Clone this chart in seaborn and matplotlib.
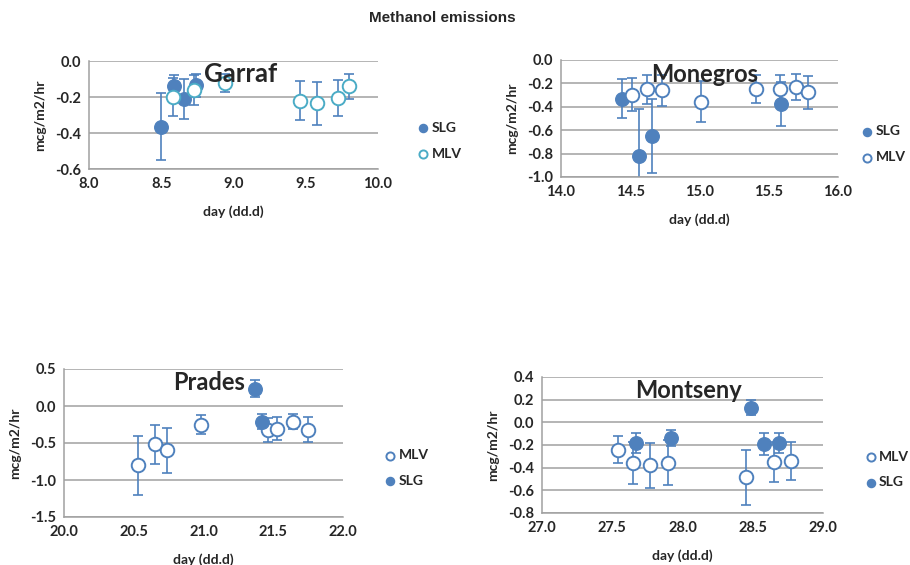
import numpy as np
import pandas as pd
import matplotlib
matplotlib.use("Agg")
import matplotlib.pyplot as plt
import seaborn as sns

# ==============================================================================
# DATA
# ==============================================================================
garraf_slg_x = [8.50, 8.59, 8.66, 8.74]
garraf_slg_y = [-0.365, -0.14, -0.21, -0.135]
garraf_slg_e = [0.185, 0.065, 0.11, 0.065]
garraf_mlv_x = [8.58, 8.73, 8.94, 9.46, 9.58, 9.72, 9.80]
garraf_mlv_y = [-0.20, -0.16, -0.12, -0.22, -0.235, -0.205, -0.14]
garraf_mlv_e = [0.105, 0.085, 0.05, 0.11, 0.12, 0.10, 0.07]

monegros_slg_x = [14.44, 14.56, 14.66, 15.59]
monegros_slg_y = [-0.33, -0.82, -0.65, -0.375]
monegros_slg_e = [0.17, 0.40, 0.32, 0.19]
monegros_mlv_x = [14.51, 14.62, 14.73, 15.01, 15.41, 15.58, 15.70, 15.78]
monegros_mlv_y = [-0.295, -0.25, -0.26, -0.355, -0.25, -0.25, -0.23, -0.275]
monegros_mlv_e = [0.145, 0.125, 0.135, 0.175, 0.12, 0.125, 0.11, 0.14]

prades_mlv_x = [20.53, 20.65, 20.74, 20.98, 21.46, 21.53, 21.64, 21.75]
prades_mlv_y = [-0.80, -0.52, -0.60, -0.25, -0.32, -0.305, -0.21, -0.32]
prades_mlv_e = [0.40, 0.26, 0.30, 0.125, 0.16, 0.15, 0.10, 0.165]
prades_slg_x = [21.37, 21.42]
prades_slg_y = [0.235, -0.21]
prades_slg_e = [0.11, 0.10]

montseny_mlv_x = [27.54, 27.65, 27.77, 27.90, 28.45, 28.65, 28.77]
montseny_mlv_y = [-0.24, -0.355, -0.38, -0.355, -0.485, -0.35, -0.34]
montseny_mlv_e = [0.12, 0.185, 0.195, 0.195, 0.245, 0.175, 0.17]
montseny_slg_x = [27.67, 27.92, 28.49, 28.58, 28.69]
montseny_slg_y = [-0.18, -0.14, 0.13, -0.19, -0.18]
montseny_slg_e = [0.09, 0.07, 0.065, 0.095, 0.09]

# ==============================================================================
# STYLE
# ==============================================================================
sns.set_style("white")
plt.rcParams['font.family'] = ['Lato', 'DejaVu Sans']

BLUE = '#4f81bd'
CYAN = '#4bacc6'
GRID = '#a0a0a0'

W, H = 910, 565
fig = plt.figure(figsize=(W / 100, H / 100), dpi=100)


def px_axes(x0, y0, x1, y1):
    return fig.add_axes([x0 / W, 1 - y1 / H, (x1 - x0) / W, (y1 - y0) / H])


def draw_series(ax, x, y, e, filled, color, label):
    ax.errorbar(x, y, yerr=e, fmt='none', ecolor=BLUE, elinewidth=1.2,
                capsize=3.5, capthick=1.2, zorder=2)
    df = pd.DataFrame({'day': x, 'val': y})
    if filled:
        sns.scatterplot(data=df, x='day', y='val', ax=ax, s=95, color=color,
                        edgecolor=color, linewidth=1, zorder=3, label=label)
    else:
        sns.scatterplot(data=df, x='day', y='val', ax=ax, s=95, facecolor='white',
                        edgecolor=color, linewidth=1.4, zorder=3, label=label)


def style_axes(ax, xlim, ylim, ystep, name, name_xy, name_size, leg_xy, order):
    ax.set_xlim(*xlim)
    ax.set_ylim(*ylim)
    xt = np.arange(xlim[0], xlim[1] + 0.01, 0.5)
    ax.set_xticks(xt)
    ax.set_xticklabels([f"{v:.1f}" for v in xt])
    yt = np.round(np.arange(ylim[0], ylim[1] + 1e-6, ystep), 2)
    ax.set_yticks(yt)
    ax.set_yticklabels([f"{v + 0.0:.1f}" for v in yt])
    ax.yaxis.grid(True, color=GRID, linewidth=1.1)
    ax.xaxis.grid(False)
    ax.set_axisbelow(True)
    for s in ['top', 'right']:
        ax.spines[s].set_visible(False)
    for s in ['left', 'bottom']:
        ax.spines[s].set_color(GRID)
        ax.spines[s].set_linewidth(1.1)
    ax.tick_params(length=0, labelsize=10.5, pad=6)
    for t in ax.get_xticklabels() + ax.get_yticklabels():
        t.set_fontweight('bold')
    ax.set_xlabel("day (dd.d)", fontsize=10, fontweight='bold', labelpad=10)
    ax.set_ylabel("mcg/m2/hr", fontsize=10, fontweight='bold', labelpad=6)
    ax.text(name_xy[0], name_xy[1], name, transform=ax.transAxes, ha='center',
            va='center', fontsize=name_size, fontweight='bold', zorder=5)
    handles, labels = ax.get_legend_handles_labels()
    hmap = dict(zip(labels, handles))
    ax.legend([hmap[k] for k in order], order, loc='center left',
              bbox_to_anchor=leg_xy, frameon=False,
              labelspacing=1.0, handletextpad=0.1, markerscale=0.6,
              handlelength=1.0, prop={'weight': 'bold', 'size': 10})


# ------------------------------------------------------------------------------
# Garraf
# ------------------------------------------------------------------------------
ax = px_axes(89, 61, 378, 169)
draw_series(ax, garraf_slg_x, garraf_slg_y, garraf_slg_e, True, BLUE, 'SLG')
draw_series(ax, garraf_mlv_x, garraf_mlv_y, garraf_mlv_e, False, CYAN, 'MLV')
style_axes(ax, (8.0, 10.0), (-0.6, 0.0), 0.2, 'Garraf', (0.525, 0.88), 18.5,
           (1.09, 0.26), ['SLG', 'MLV'])

# ------------------------------------------------------------------------------
# Monegros
# ------------------------------------------------------------------------------
ax = px_axes(561, 60, 838, 177)
draw_series(ax, monegros_slg_x, monegros_slg_y, monegros_slg_e, True, BLUE, 'SLG')
draw_series(ax, monegros_mlv_x, monegros_mlv_y, monegros_mlv_e, False, BLUE, 'MLV')
style_axes(ax, (14.0, 16.0), (-1.0, 0.0), 0.2, 'Monegros', (0.52, 0.88), 17,
           (1.035, 0.28), ['SLG', 'MLV'])

# ------------------------------------------------------------------------------
# Prades
# ------------------------------------------------------------------------------
ax = px_axes(64, 369, 343, 517)
draw_series(ax, prades_mlv_x, prades_mlv_y, prades_mlv_e, False, BLUE, 'MLV')
draw_series(ax, prades_slg_x, prades_slg_y, prades_slg_e, True, BLUE, 'SLG')
style_axes(ax, (20.0, 22.0), (-1.5, 0.5), 0.5, 'Prades', (0.52, 0.91), 17,
           (1.10, 0.33), ['MLV', 'SLG'])

# ------------------------------------------------------------------------------
# Montseny
# ------------------------------------------------------------------------------
ax = px_axes(542, 377, 823, 513)
draw_series(ax, montseny_mlv_x, montseny_mlv_y, montseny_mlv_e, False, BLUE, 'MLV')
draw_series(ax, montseny_slg_x, montseny_slg_y, montseny_slg_e, True, BLUE, 'SLG')
style_axes(ax, (27.0, 29.0), (-0.8, 0.4), 0.2, 'Montseny', (0.52, 0.9), 17,
           (1.10, 0.32), ['MLV', 'SLG'])

fig.text(442 / W, 1 - 18 / H, "Methanol emissions", ha='center', va='center',
         fontsize=11, fontweight='bold', family=['Liberation Sans', 'DejaVu Sans'])

fig.savefig("out.png", dpi=100)
